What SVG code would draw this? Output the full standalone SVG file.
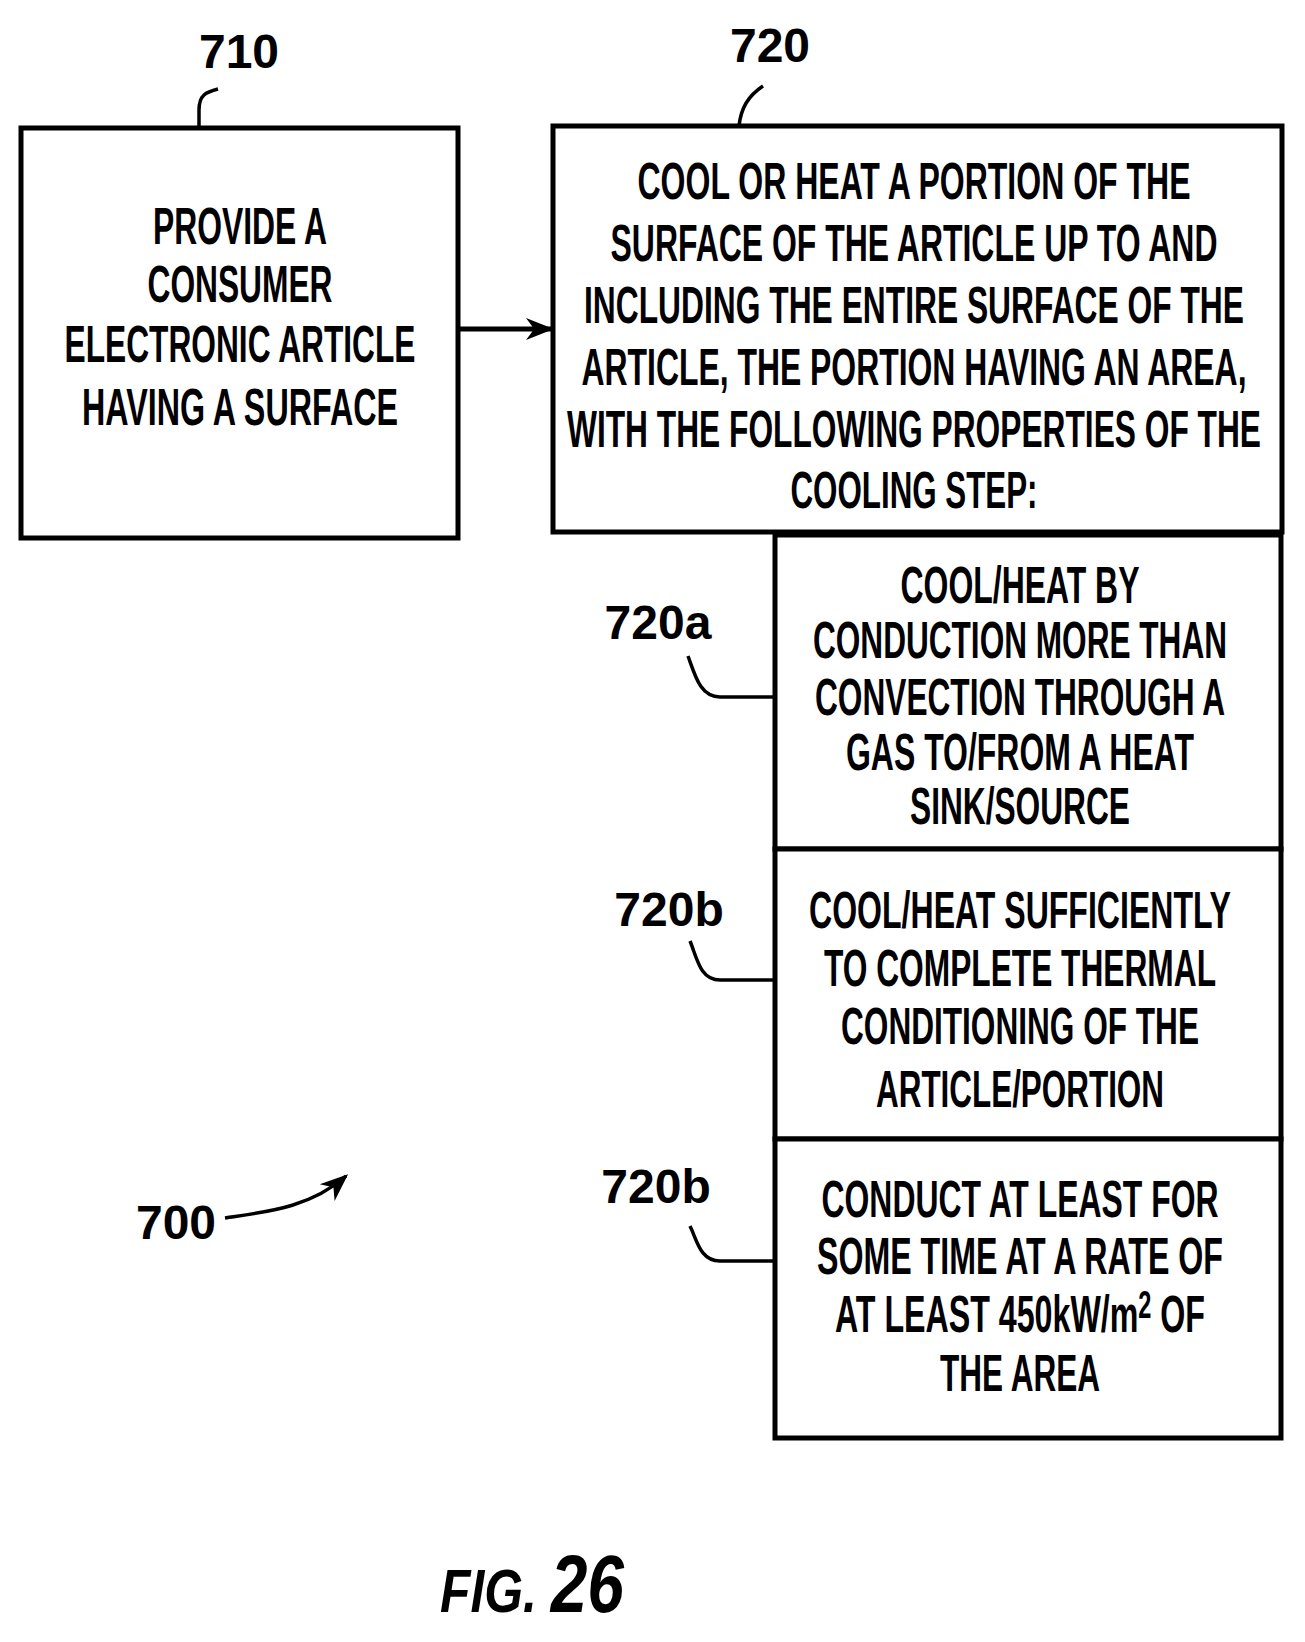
<svg xmlns="http://www.w3.org/2000/svg" width="1305" height="1642" viewBox="0 0 1305 1642">
<style>
.b{fill:#fff;stroke:#000;stroke-width:5}
.t{font-family:"Liberation Sans",Arial,sans-serif;font-weight:bold;font-size:52px;text-anchor:middle}
.l{font-family:"Liberation Sans",Arial,sans-serif;font-weight:bold;font-size:48px;text-anchor:middle}
.c{fill:none;stroke:#000;stroke-width:3.5}
.k{fill:none;stroke:#000;stroke-width:5}
</style>
<defs>
<marker id="ah2" viewBox="0 0 10 10" refX="9" refY="5" markerWidth="28" markerHeight="28" orient="auto" markerUnits="userSpaceOnUse"><path d="M0,1 L10,5 L0,9 L3,5 Z" fill="#000"/></marker></defs>
<rect width="1305" height="1642" fill="#fff"/>
<g id="connectors">
<line x1="458" y1="329" x2="551" y2="329" class="k" marker-end="url(#ah2)"/>
<path class="c" d="M199 128 V110 C199 95 206 92 218 89"/>
<path class="c" d="M739 126 C741 108 748 96 763 86"/>
<path class="c" d="M775 697 H720 C700 697 695 675 688 656"/>
<path class="c" d="M775 980 H720 C700 980 697 958 690 941"/>
<path class="c" d="M775 1261 H720 C700 1261 697 1240 690 1226"/>
<path class="c" d="M225 1218 C265 1212 310 1208 346 1176" marker-end="url(#ah2)"/>
</g>
<g id="n710">
<rect class="b" x="21" y="128" width="437" height="410"/>
<text class="t" x="240" y="244" textLength="174" lengthAdjust="spacingAndGlyphs">PROVIDE A</text>
<text class="t" x="240" y="302" textLength="185" lengthAdjust="spacingAndGlyphs">CONSUMER</text>
<text class="t" x="240" y="362" textLength="351" lengthAdjust="spacingAndGlyphs">ELECTRONIC ARTICLE</text>
<text class="t" x="240" y="425" textLength="316" lengthAdjust="spacingAndGlyphs">HAVING A SURFACE</text>
</g>
<g id="n720">
<rect class="b" x="553" y="126" width="729" height="406"/>
<text class="t" x="914" y="199" textLength="553" lengthAdjust="spacingAndGlyphs">COOL OR HEAT A PORTION OF THE</text>
<text class="t" x="914" y="261" textLength="607" lengthAdjust="spacingAndGlyphs">SURFACE OF THE ARTICLE UP TO AND</text>
<text class="t" x="914" y="323" textLength="660" lengthAdjust="spacingAndGlyphs">INCLUDING THE ENTIRE SURFACE OF THE</text>
<text class="t" x="914" y="385" textLength="665" lengthAdjust="spacingAndGlyphs">ARTICLE, THE PORTION HAVING AN AREA,</text>
<text class="t" x="914" y="447" textLength="694" lengthAdjust="spacingAndGlyphs">WITH THE FOLLOWING PROPERTIES OF THE</text>
<text class="t" x="914" y="508" textLength="247" lengthAdjust="spacingAndGlyphs">COOLING STEP:</text>
</g>
<g id="n720a">
<rect class="b" x="775" y="535" width="506" height="314"/>
<text class="t" x="1020" y="603" textLength="239" lengthAdjust="spacingAndGlyphs">COOL/HEAT BY</text>
<text class="t" x="1020" y="658" textLength="414" lengthAdjust="spacingAndGlyphs">CONDUCTION MORE THAN</text>
<text class="t" x="1020" y="715" textLength="410" lengthAdjust="spacingAndGlyphs">CONVECTION THROUGH A</text>
<text class="t" x="1020" y="770" textLength="348" lengthAdjust="spacingAndGlyphs">GAS TO/FROM A HEAT</text>
<text class="t" x="1020" y="824" textLength="220" lengthAdjust="spacingAndGlyphs">SINK/SOURCE</text>
</g>
<g id="n720b">
<rect class="b" x="775" y="849" width="506" height="290"/>
<text class="t" x="1020" y="928" textLength="422" lengthAdjust="spacingAndGlyphs">COOL/HEAT SUFFICIENTLY</text>
<text class="t" x="1020" y="986" textLength="392" lengthAdjust="spacingAndGlyphs">TO COMPLETE THERMAL</text>
<text class="t" x="1020" y="1044" textLength="358" lengthAdjust="spacingAndGlyphs">CONDITIONING OF THE</text>
<text class="t" x="1020" y="1107" textLength="288" lengthAdjust="spacingAndGlyphs">ARTICLE/PORTION</text>
</g>
<g id="n720c">
<rect class="b" x="775" y="1139" width="506" height="299"/>
<text class="t" x="1020" y="1217" textLength="397" lengthAdjust="spacingAndGlyphs">CONDUCT AT LEAST FOR</text>
<text class="t" x="1020" y="1274" textLength="406" lengthAdjust="spacingAndGlyphs">SOME TIME AT A RATE OF</text>
<text class="t" x="1020" y="1332" textLength="370" lengthAdjust="spacingAndGlyphs">AT LEAST 450kW/m<tspan dy="-14" font-size="38">2</tspan><tspan dy="14"> OF</tspan></text>
<text class="t" x="1020" y="1391" textLength="160" lengthAdjust="spacingAndGlyphs">THE AREA</text>
</g>
<g id="labels">
<text class="l" x="239" y="68">710</text>
<text class="l" x="770" y="62">720</text>
<text class="l" x="658" y="639">720a</text>
<text class="l" x="669" y="926">720b</text>
<text class="l" x="656" y="1203">720b</text>
<text class="l" x="176" y="1239">700</text>
<text x="440" y="1612" font-family="Liberation Sans,Arial,sans-serif" font-weight="bold" font-style="italic" textLength="184" lengthAdjust="spacingAndGlyphs"><tspan font-size="62">FIG. </tspan><tspan font-size="82">26</tspan></text>
</g>
</svg>
